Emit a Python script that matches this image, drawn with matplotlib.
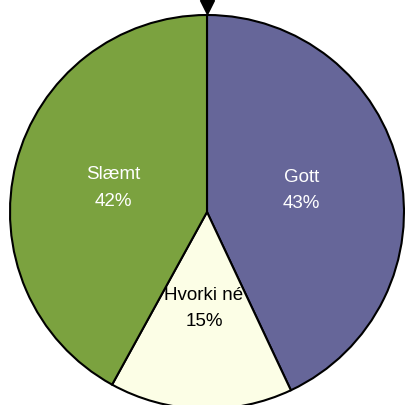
import matplotlib.pyplot as plt

labels = ['Gott', 'Hvorki né', 'Slæmt']
values = [43, 15, 42]
colors = ['#666699', '#FCFEE6', '#7BA23F']
text_colors = ['white', 'black', 'white']

fig = plt.figure(figsize=(4.05, 4.05), dpi=100)
ax = fig.add_axes([0, 0, 1, 1])

names = [f'{l}\n{v}%' for l, v in zip(labels, values)]
wedges, texts = ax.pie(values, labels=names, colors=colors, startangle=90,
                       counterclock=False, center=(207, 193), radius=197,
                       labeldistance=0.49, frame=True,
                       wedgeprops=dict(edgecolor='black', linewidth=1.5),
                       textprops=dict(fontsize=13.5, family=['Liberation Sans', 'DejaVu Sans']))
for t, c in zip(texts, text_colors):
    t.set_ha('center')
    t.set_va('center')
    t.set_color(c)
    t.set_linespacing(1.7)

ax.set_xlim(0, 405)
ax.set_ylim(0, 405)
ax.set_aspect('equal')
ax.axis('off')
ax.plot([207], [398], marker='v', color='black', markersize=10, clip_on=False)

fig.savefig('out.png', dpi=100)
